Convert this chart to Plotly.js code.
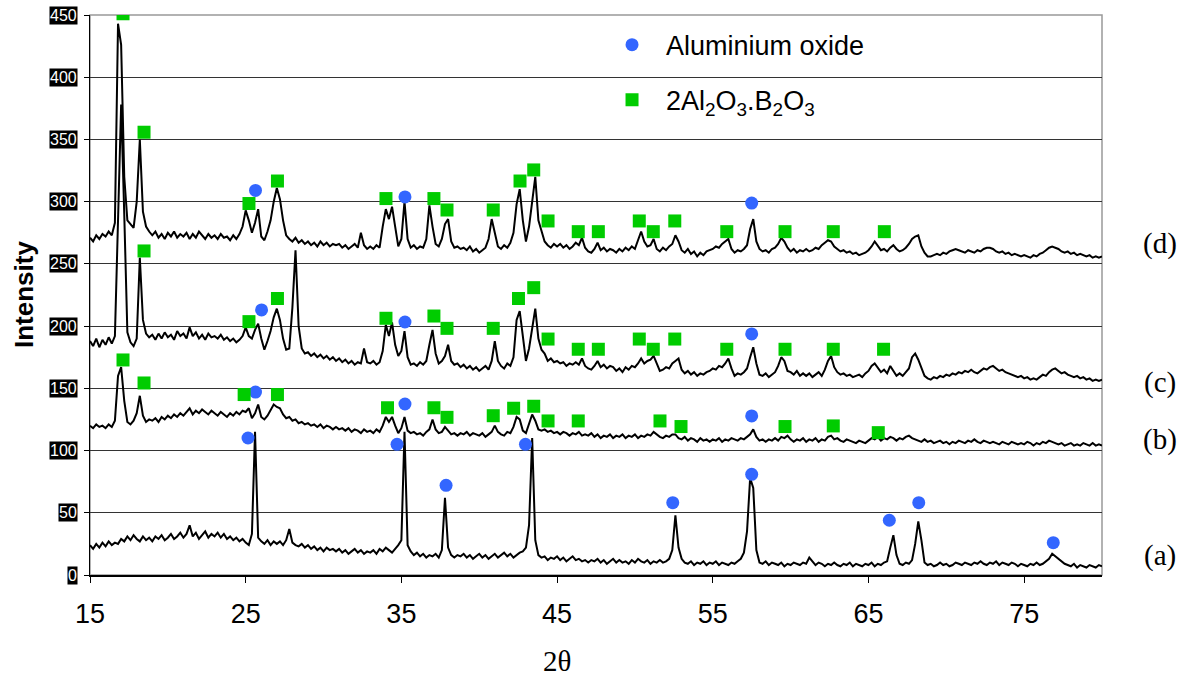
<!DOCTYPE html>
<html>
<head>
<meta charset="utf-8">
<script src="https://cdn.plot.ly/plotly-3.0.1.min.js"></script>
<style>html,body{margin:0;padding:0;background:#fff;}#chart{width:1189px;height:677px;}</style>
</head>
<body>
<div id="chart"></div>
<script>
// 2-theta sampling grid of the scans (degrees)
const X_START = 15, X_STEP = 0.2, X_COUNT = 326;

// Pattern (a)
const seriesA = [
24,21,25,22,26,23,27,24,26,25,
29,27,31,28,32,29,27,31,28,30,
27,31,29,32,28,30,33,29,31,34,
30,33,40,31,34,29,32,35,30,33,
31,34,30,33,29,31,28,30,27,29,
26,24,33,115,30,27,25,28,24,27,
25,27,24,28,37,26,24,23,25,22,
24,21,23,20,22,19,22,20,21,19,
21,18,20,17,19,21,18,20,17,19,
18,20,17,21,19,22,20,18,21,24,
28,115,24,19,16,18,15,17,14,16,
15,17,14,20,62,22,16,14,16,15,
17,14,16,13,15,17,14,16,13,15,
17,14,16,18,15,17,14,16,18,19,
22,40,110,28,16,14,15,12,14,13,
15,12,14,11,13,15,12,13,11,12,
10,12,11,13,10,12,9,11,13,10,
12,10,11,9,12,10,13,11,10,12,
9,11,10,12,10,11,13,20,48,22,
13,10,9,11,8,10,9,11,8,10,
9,11,8,10,9,8,10,9,11,13,
18,35,78,70,20,10,9,11,8,10,
9,8,10,7,9,8,10,9,8,10,
9,14,11,8,10,9,7,9,8,10,
8,7,9,8,10,7,9,8,7,9,
8,10,7,9,8,10,11,22,32,16,
9,8,10,9,12,25,43,28,10,8,
9,7,8,10,8,9,7,8,10,9,
8,10,9,8,10,9,11,9,8,10,
9,11,8,10,9,8,10,9,7,9,
8,7,9,8,10,8,9,11,13,17,
15,13,11,9,8,7,9,6,8,7,
6,8,7,6,8,7];

// Pattern (b)
const seriesB = [
120,118,121,119,120,118,121,119,124,160,
167,140,123,121,124,130,144,128,123,125,
124,126,123,127,125,128,126,129,127,130,
128,131,134,129,132,130,133,131,129,132,
130,128,131,129,127,130,128,131,129,132,
131,134,126,130,137,127,125,128,133,137,
135,134,129,126,127,124,125,122,123,121,
122,120,121,119,121,118,120,119,117,119,
117,118,116,118,115,117,116,114,117,115,
116,114,117,115,120,127,123,127,120,114,
118,127,116,114,115,113,114,112,115,117,
125,117,114,115,119,116,113,114,112,114,
113,115,112,114,113,112,114,111,113,115,
120,115,113,112,115,114,119,127,125,116,
114,121,129,124,117,116,117,115,116,114,
115,113,115,114,112,114,113,115,112,113,
112,114,111,113,110,112,111,113,110,112,
111,113,110,112,111,113,110,112,111,113,
112,115,113,111,110,112,111,113,113,110,
109,111,108,110,109,107,110,108,109,107,
109,108,110,107,109,108,110,109,108,110,
109,111,113,117,111,108,109,107,109,108,
110,108,111,110,112,109,107,109,108,110,
107,109,108,110,107,109,108,111,112,109,
110,108,107,109,108,107,106,108,107,106,
108,110,109,111,108,110,109,111,110,108,
110,109,111,112,110,109,108,107,109,107,
108,106,107,108,106,107,105,107,106,108,
107,106,108,107,109,107,106,108,107,106,
107,106,105,107,106,105,107,106,105,106,
105,107,106,104,106,105,107,106,108,107,
106,105,106,104,105,106,104,105,104,106,
105,104,106,104,105,104];

// Pattern (c)
const seriesC = [
188,184,190,183,189,185,191,186,192,280,
378,290,195,187,184,190,255,205,194,191,
193,189,194,190,195,191,193,189,196,192,
194,190,199,192,195,190,193,189,194,191,
192,190,193,189,191,188,190,187,189,192,
199,192,190,197,202,190,181,188,196,207,
214,205,190,181,182,215,261,200,182,178,
179,176,178,175,177,174,176,173,175,172,
174,171,173,170,172,169,171,170,182,171,
170,172,169,171,180,201,192,203,185,176,
180,196,175,169,170,168,171,169,172,185,
197,178,170,172,176,185,172,169,170,167,
169,166,168,165,167,164,166,168,165,172,
188,172,168,166,170,168,175,205,212,190,
172,182,200,214,190,181,178,172,174,171,
172,170,171,168,170,169,171,169,174,168,
166,165,168,172,167,169,166,168,167,164,
166,163,167,165,168,167,170,174,170,172,
173,176,170,164,165,167,166,170,172,174,
165,162,164,161,163,160,162,161,163,164,
166,165,168,167,170,174,166,160,162,161,
163,166,175,183,170,161,160,162,159,161,
163,168,175,172,164,163,161,164,160,162,
160,162,159,161,163,160,165,172,176,167,
163,161,162,160,161,159,160,161,159,162,
164,168,170,166,163,165,162,168,164,160,
162,160,163,166,175,178,173,166,160,158,
157,159,158,160,159,161,160,162,161,163,
162,164,163,165,163,162,164,166,165,167,
168,166,164,165,163,162,161,160,159,160,
158,159,157,158,157,159,161,160,163,165,
166,164,162,163,161,160,159,160,158,159,
157,158,156,157,156,157];

// Pattern (d)
const seriesD = [
271,268,273,270,274,272,276,273,283,443,
426,320,285,282,279,300,350,292,280,276,
273,276,271,274,270,275,272,276,271,274,
272,275,270,274,271,276,273,270,274,271,
273,270,274,271,272,269,273,270,274,280,
293,285,275,283,294,272,269,276,285,300,
311,302,285,273,270,268,271,267,269,266,
268,265,267,264,268,265,267,264,266,265,
266,263,265,262,264,266,263,275,265,262,
264,262,265,263,280,294,286,296,280,264,
270,300,270,263,265,262,264,263,270,297,
280,266,264,270,282,286,268,263,264,262,
263,261,264,260,262,259,261,263,270,286,
275,264,262,265,263,267,275,298,310,285,
268,280,300,320,285,277,268,265,263,266,
264,266,263,265,262,264,267,265,271,263,
260,259,262,267,261,263,260,262,261,259,
262,260,263,261,264,262,270,276,268,264,
265,270,262,260,263,261,264,266,273,268,
261,259,262,258,260,256,259,257,260,261,
262,264,263,266,268,270,262,259,261,260,
262,265,278,286,268,262,260,261,259,262,
263,266,271,268,263,260,262,259,261,260,
262,260,261,263,262,265,267,269,268,264,
262,260,261,259,260,258,259,257,258,259,
261,264,268,264,261,262,260,263,265,262,
260,261,263,266,270,272,273,264,259,256,
256,257,258,257,259,258,260,261,262,261,
260,259,261,260,259,261,260,262,263,263,
262,260,259,260,258,259,257,258,257,256,
257,256,255,257,256,258,259,261,263,264,
263,262,260,259,260,258,259,257,258,257,
256,257,255,256,255,256];

// Phase markers: 2Al2O3.B2O3 (green squares)
const sqD_x = [17.12,18.47,25.21,27.04,34.01,37.09,37.93,40.9,42.62,43.5,44.42,46.36,47.65,50.28,51.18,52.56,55.9,59.64,62.74,66.02];
const sqD_y = [451,355.8,298.5,316.6,302.5,302.5,293.3,293.3,316.6,325.5,284.5,275.9,275.9,284.5,275.9,284.5,275.9,275.9,275.9,275.9];
const sqC_x = [18.47,25.21,27.04,34.01,37.09,37.93,40.9,42.52,43.5,44.42,46.36,47.65,50.28,51.18,52.56,55.9,59.64,62.74,65.97];
const sqC_y = [260.4,203.6,222.2,206.3,208.1,198.2,198.2,222.2,230.9,189.6,181.4,181.4,189.6,181.4,189.6,181.4,181.4,181.4,181.4];
const sqB_x = [17.12,18.47,24.9,27.04,34.11,37.09,37.93,40.9,42.21,43.5,44.42,46.36,51.61,52.96,59.64,62.74,65.63];
const sqB_y = [172.8,154.3,145,145,134.4,134.4,126.7,128,134,135.6,123.8,123.8,123.8,119.3,119.3,119.8,114.4];

// Phase markers: Aluminium oxide (blue circles)
const ciD_x = [25.63,35.23,57.5];
const ciD_y = [309,303.8,298.9];
const ciC_x = [26.02,35.23,57.5];
const ciC_y = [213,203.3,193.7];
const ciB_x = [25.63,35.23,57.5];
const ciB_y = [147,137.4,127.8];
const ciA_x = [25.15,34.72,37.87,42.97,52.43,57.5,66.34,68.23,76.87];
const ciA_y = [110.1,105,72.1,105,58.1,80.9,44,58.1,26];

const xTicks = [15,25,35,45,55,65,75];
const yTicks = [0,50,100,150,200,250,300,350,400,450];
const curveLabels = ['(a)','(b)','(c)','(d)'];
const curveLabelY = [16,109,155,266];

const xs = Array.from({length: X_COUNT}, (_, i) => +(X_START + i * X_STEP).toFixed(2));

const lineStyle = {color: '#000000', width: 2};
const traces = [];
[seriesA, seriesB, seriesC, seriesD].forEach((s, k) => {
  traces.push({type: 'scatter', mode: 'lines', x: xs, y: s, line: lineStyle,
    showlegend: false, hoverinfo: 'skip', name: curveLabels[k]});
});
traces.push({type: 'scatter', mode: 'markers', name: 'Aluminium oxide', legendgroup: 'g1',
  x: [].concat(ciD_x, ciC_x, ciB_x, ciA_x), y: [].concat(ciD_y, ciC_y, ciB_y, ciA_y),
  marker: {symbol: 'circle', size: 13, color: '#3366ff'}});
traces.push({type: 'scatter', mode: 'markers', name: '2Al<sub>2</sub>O<sub>3</sub>.B<sub>2</sub>O<sub>3</sub>', legendgroup: 'g2',
  x: [].concat(sqD_x, sqC_x, sqB_x), y: [].concat(sqD_y, sqC_y, sqB_y),
  marker: {symbol: 'square', size: 13, color: '#00cc00'}});

const annotations = [];
yTicks.forEach(v => annotations.push({
  xref: 'paper', x: 0, xanchor: 'right', xshift: -12,
  yref: 'y', y: v, yanchor: 'middle', showarrow: false,
  text: String(v), bgcolor: '#000000', borderpad: 0,
  font: {family: 'Arial, "Liberation Sans", sans-serif', size: 16, color: '#ffffff'}
}));
curveLabels.forEach((t, k) => annotations.push({
  xref: 'paper', x: 1, xanchor: 'center', xshift: 58,
  yref: 'y', y: curveLabelY[k], yanchor: 'middle', showarrow: false,
  text: t, font: {family: '"Liberation Serif", "Times New Roman", serif', size: 29, color: '#000000'}
}));
annotations.push({
  xref: 'paper', x: 0, xanchor: 'center', xshift: -66,
  yref: 'paper', y: 0.5, yanchor: 'middle', showarrow: false, textangle: -90,
  text: '<b>Intensity</b>', font: {family: 'Arial, "Liberation Sans", sans-serif', size: 26, color: '#000000'}
});
annotations.push({
  xref: 'paper', x: 0.4615, xanchor: 'center',
  yref: 'paper', y: 0, yanchor: 'middle', yshift: -86, showarrow: false,
  text: '2θ', font: {family: '"Liberation Serif", "Times New Roman", serif', size: 29, color: '#000000'}
});

const layout = {
  width: 1189, height: 677,
  margin: {l: 90, r: 87, t: 15, b: 102, pad: 0},
  paper_bgcolor: '#ffffff', plot_bgcolor: '#ffffff',
  font: {family: 'Arial, "Liberation Sans", sans-serif', color: '#000000'},
  showlegend: true,
  legend: {x: 0.502, xanchor: 'left', y: 0.99, yanchor: 'top', bgcolor: 'rgba(0,0,0,0)',
    font: {size: 27, color: '#000000'}, itemwidth: 58, tracegroupgap: 17, traceorder: 'grouped'},
  xaxis: {range: [15, 80], tickmode: 'array', tickvals: xTicks, ticktext: xTicks.map(String),
    ticks: 'outside', ticklen: 6, tickcolor: '#000000', tickwidth: 1,
    showline: true, linecolor: '#000000', linewidth: 1.5, showgrid: false, zeroline: false,
    tickfont: {size: 27, color: '#000000'}, ticklabelstandoff: 8},
  yaxis: {range: [0, 450], tickmode: 'array', tickvals: yTicks,
    ticks: 'outside', ticklen: 5, tickcolor: '#000000', tickwidth: 1,
    showline: true, linecolor: '#000000', linewidth: 1.5,
    showgrid: true, gridcolor: '#333333', gridwidth: 1, zeroline: false, showticklabels: false},
  shapes: [{type: 'rect', xref: 'paper', yref: 'paper', x0: 0, x1: 1, y0: 0, y1: 1,
    line: {color: '#999999', width: 1.5}, layer: 'between'}],
  annotations: annotations
};

Plotly.newPlot('chart', traces, layout, {displayModeBar: false, staticPlot: true});
</script>
</body>
</html>
